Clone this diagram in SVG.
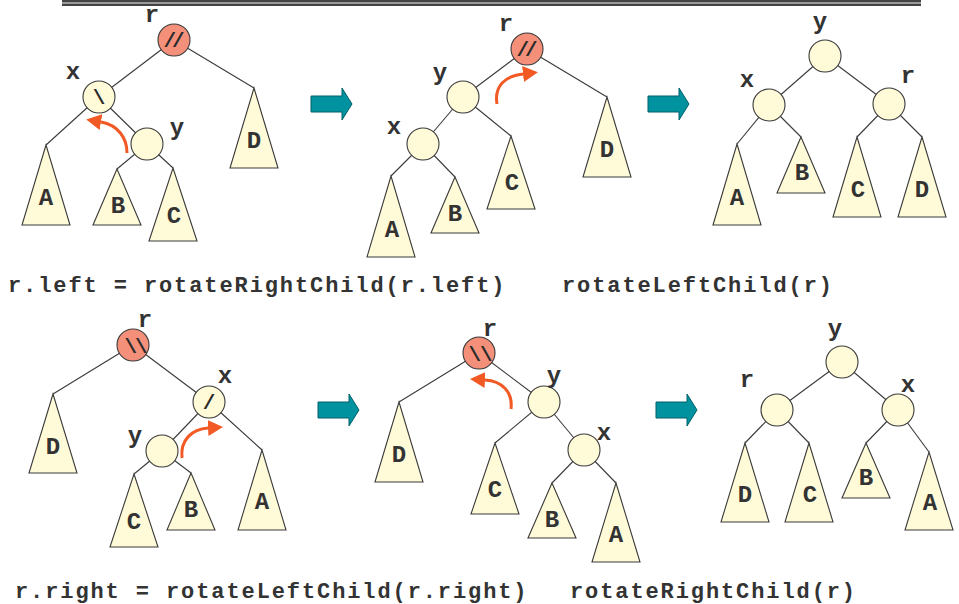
<svg xmlns="http://www.w3.org/2000/svg" width="959" height="604" viewBox="0 0 959 604">
  <style>
    .edge { stroke: #3a3a3a; stroke-width: 1.1; fill: none; }
    .node { fill: #FFFAD7; stroke: #3a3a3a; stroke-width: 1.1; }
    .hot { fill: #F4907A; stroke: #3a3a3a; stroke-width: 1.1; }
    .sub { fill: #FFFAD7; stroke: #3a3a3a; stroke-width: 1.1; stroke-linejoin: miter; }
    .lbl { font-family: "Liberation Mono", "Courier New", monospace; font-weight: bold; font-size: 24px; fill: #333; text-anchor: middle; }
    .mark { font-family: "Liberation Mono", "Courier New", monospace; font-weight: bold; font-size: 21px; fill: #2a2a2a; text-anchor: middle; }
    .code { font-family: "Liberation Mono", "Courier New", monospace; font-weight: bold; font-size: 22px; letter-spacing: 1.9px; fill: #333; }
    .turn { stroke: #F15A24; stroke-width: 3; fill: none; marker-end: url(#turnhead); }
    .step { fill: #00929E; stroke: #00606A; stroke-width: 1; }
  </style>
  <defs>
    <marker id="turnhead" markerUnits="userSpaceOnUse" markerWidth="15" markerHeight="16" viewBox="0 0 15 16" refX="0" refY="8" orient="auto">
      <path d="M0,0 L15,8 L0,16 z" fill="#F15A24"/>
    </marker>
    <path id="stepArrow" d="M0,8 H31 V0 L41,16 L31,32 V24 H0 z"/>
  </defs>

  <!-- header rule -->
  <g id="header-rule">
    <rect x="62" y="0" width="859" height="6" fill="#9a9a9a"/>
    <rect x="62" y="0" width="859" height="2" fill="#444"/>
    <rect x="62" y="4" width="859" height="2" fill="#444"/>
  </g>

  <!-- connectors -->
  <g id="connectors">
    <!-- top left -->
    <line class="edge" x1="174" y1="40" x2="99" y2="97"/>
    <line class="edge" x1="174" y1="40" x2="254" y2="88"/>
    <line class="edge" x1="99" y1="97" x2="46" y2="145"/>
    <line class="edge" x1="99" y1="97" x2="147" y2="144"/>
    <line class="edge" x1="147" y1="144" x2="117" y2="169"/>
    <line class="edge" x1="147" y1="144" x2="173" y2="168"/>
    <!-- top middle -->
    <line class="edge" x1="527" y1="49" x2="463" y2="97"/>
    <line class="edge" x1="527" y1="49" x2="607" y2="97"/>
    <line class="edge" x1="463" y1="97" x2="423" y2="144"/>
    <line class="edge" x1="463" y1="97" x2="511" y2="136"/>
    <line class="edge" x1="423" y1="144" x2="391" y2="176"/>
    <line class="edge" x1="423" y1="144" x2="455" y2="177"/>
    <!-- top right -->
    <line class="edge" x1="825" y1="56" x2="769" y2="105"/>
    <line class="edge" x1="825" y1="56" x2="889" y2="104"/>
    <line class="edge" x1="769" y1="105" x2="737" y2="144"/>
    <line class="edge" x1="769" y1="105" x2="801" y2="137"/>
    <line class="edge" x1="889" y1="104" x2="857" y2="137"/>
    <line class="edge" x1="889" y1="104" x2="922" y2="137"/>
    <!-- bottom left -->
    <line class="edge" x1="133" y1="345" x2="53" y2="394"/>
    <line class="edge" x1="133" y1="345" x2="209" y2="402"/>
    <line class="edge" x1="209" y1="402" x2="162" y2="451"/>
    <line class="edge" x1="209" y1="402" x2="262" y2="450"/>
    <line class="edge" x1="162" y1="451" x2="134" y2="474"/>
    <line class="edge" x1="162" y1="451" x2="191" y2="473"/>
    <!-- bottom middle -->
    <line class="edge" x1="479" y1="353" x2="399" y2="402"/>
    <line class="edge" x1="479" y1="353" x2="544" y2="402"/>
    <line class="edge" x1="544" y1="402" x2="495" y2="443"/>
    <line class="edge" x1="544" y1="402" x2="584" y2="450"/>
    <line class="edge" x1="584" y1="450" x2="552" y2="483"/>
    <line class="edge" x1="584" y1="450" x2="616" y2="483"/>
    <!-- bottom right -->
    <line class="edge" x1="842" y1="362" x2="777" y2="410"/>
    <line class="edge" x1="842" y1="362" x2="898" y2="410"/>
    <line class="edge" x1="777" y1="410" x2="745" y2="443"/>
    <line class="edge" x1="777" y1="410" x2="809" y2="443"/>
    <line class="edge" x1="898" y1="410" x2="866" y2="443"/>
    <line class="edge" x1="898" y1="410" x2="929" y2="452"/>
  </g>

  <!-- ===== top row, left tree ===== -->
  <g id="t1-r"><circle class="hot" cx="174" cy="40" r="16"/><text class="mark" x="172" y="47" letter-spacing="-4">//</text><text class="lbl" x="152" y="22">r</text></g>
  <g id="t1-x"><circle class="node" cx="99" cy="97" r="16"/><text class="mark" x="99" y="104">\</text><text class="lbl" x="73" y="79">x</text></g>
  <g id="t1-y"><circle class="node" cx="147" cy="144" r="16"/><text class="lbl" x="177" y="135">y</text></g>
  <g id="t1-A"><polygon class="sub" points="46,145 70,225 22,225"/><text class="lbl" x="46" y="205">A</text></g>
  <g id="t1-B"><polygon class="sub" points="117,169 141,225 93,225"/><text class="lbl" x="118" y="213">B</text></g>
  <g id="t1-C"><polygon class="sub" points="173,168 197,241 149,241"/><text class="lbl" x="174" y="223">C</text></g>
  <g id="t1-D"><polygon class="sub" points="254,88 278,168 230,168"/><text class="lbl" x="254" y="148">D</text></g>
  <path id="t1-turn" class="turn" d="M127,153 C127,138 118,125 101,122"/>

  <!-- ===== top row, middle tree ===== -->
  <g id="t2-r"><circle class="hot" cx="527" cy="49" r="16"/><text class="mark" x="525" y="56" letter-spacing="-4">//</text><text class="lbl" x="506" y="31">r</text></g>
  <g id="t2-y"><circle class="node" cx="463" cy="97" r="16"/><text class="lbl" x="440" y="80">y</text></g>
  <g id="t2-x"><circle class="node" cx="423" cy="144" r="16"/><text class="lbl" x="394" y="134">x</text></g>
  <g id="t2-A"><polygon class="sub" points="391,176 415,257 367,257"/><text class="lbl" x="392" y="237">A</text></g>
  <g id="t2-B"><polygon class="sub" points="455,177 479,233 431,233"/><text class="lbl" x="455" y="221">B</text></g>
  <g id="t2-C"><polygon class="sub" points="511,136 535,209 487,209"/><text class="lbl" x="512" y="190">C</text></g>
  <g id="t2-D"><polygon class="sub" points="607,97 631,177 583,177"/><text class="lbl" x="607" y="157">D</text></g>
  <path id="t2-turn" class="turn" d="M497,104 C494,86 505,76 523,74"/>

  <!-- ===== top row, right tree ===== -->
  <g id="t3-y"><circle class="node" cx="825" cy="56" r="16"/><text class="lbl" x="820" y="29">y</text></g>
  <g id="t3-x"><circle class="node" cx="769" cy="105" r="16"/><text class="lbl" x="747" y="87">x</text></g>
  <g id="t3-r"><circle class="node" cx="889" cy="104" r="16"/><text class="lbl" x="908" y="83">r</text></g>
  <g id="t3-A"><polygon class="sub" points="737,144 761,225 713,225"/><text class="lbl" x="737" y="205">A</text></g>
  <g id="t3-B"><polygon class="sub" points="801,137 825,193 777,193"/><text class="lbl" x="802" y="180">B</text></g>
  <g id="t3-C"><polygon class="sub" points="857,137 881,217 833,217"/><text class="lbl" x="858" y="197">C</text></g>
  <g id="t3-D"><polygon class="sub" points="922,137 946,217 898,217"/><text class="lbl" x="922" y="197">D</text></g>

  <!-- ===== bottom row, left tree ===== -->
  <g id="b1-r"><circle class="hot" cx="133" cy="345" r="16"/><text class="mark" x="135" y="353" letter-spacing="-2">\\</text><text class="lbl" x="145" y="327">r</text></g>
  <g id="b1-x"><circle class="node" cx="209" cy="402" r="16"/><text class="mark" x="209" y="409">/</text><text class="lbl" x="225" y="383">x</text></g>
  <g id="b1-y"><circle class="node" cx="162" cy="451" r="16"/><text class="lbl" x="135" y="443">y</text></g>
  <g id="b1-D"><polygon class="sub" points="53,394 77,473 29,473"/><text class="lbl" x="53" y="454">D</text></g>
  <g id="b1-C"><polygon class="sub" points="134,474 158,547 110,547"/><text class="lbl" x="134" y="529">C</text></g>
  <g id="b1-B"><polygon class="sub" points="191,473 215,530 167,530"/><text class="lbl" x="191" y="517">B</text></g>
  <g id="b1-A"><polygon class="sub" points="262,450 286,530 238,530"/><text class="lbl" x="262" y="509">A</text></g>
  <path id="b1-turn" class="turn" d="M182,458 C180,440 192,429 208,428"/>

  <!-- ===== bottom row, middle tree ===== -->
  <g id="b2-r"><circle class="hot" cx="479" cy="353" r="16"/><text class="mark" x="480" y="361" letter-spacing="-1">\\</text><text class="lbl" x="490" y="336">r</text></g>
  <g id="b2-y"><circle class="node" cx="544" cy="402" r="16"/><text class="lbl" x="554" y="383">y</text></g>
  <g id="b2-x"><circle class="node" cx="584" cy="450" r="16"/><text class="lbl" x="604" y="440">x</text></g>
  <g id="b2-D"><polygon class="sub" points="399,402 423,482 375,482"/><text class="lbl" x="399" y="462">D</text></g>
  <g id="b2-C"><polygon class="sub" points="495,443 519,514 471,514"/><text class="lbl" x="495" y="497">C</text></g>
  <g id="b2-B"><polygon class="sub" points="552,483 576,538 528,538"/><text class="lbl" x="552" y="527">B</text></g>
  <g id="b2-A"><polygon class="sub" points="616,483 640,562 592,562"/><text class="lbl" x="616" y="542">A</text></g>
  <path id="b2-turn" class="turn" d="M511,409 C513,392 502,381 485,380"/>

  <!-- ===== bottom row, right tree ===== -->
  <g id="b3-y"><circle class="node" cx="842" cy="362" r="16"/><text class="lbl" x="835" y="336">y</text></g>
  <g id="b3-r"><circle class="node" cx="777" cy="410" r="16"/><text class="lbl" x="747" y="387">r</text></g>
  <g id="b3-x"><circle class="node" cx="898" cy="410" r="16"/><text class="lbl" x="908" y="392">x</text></g>
  <g id="b3-D"><polygon class="sub" points="745,443 769,522 721,522"/><text class="lbl" x="745" y="502">D</text></g>
  <g id="b3-C"><polygon class="sub" points="809,443 833,522 785,522"/><text class="lbl" x="810" y="502">C</text></g>
  <g id="b3-B"><polygon class="sub" points="866,443 890,498 842,498"/><text class="lbl" x="866" y="485">B</text></g>
  <g id="b3-A"><polygon class="sub" points="929,452 953,530 905,530"/><text class="lbl" x="930" y="510">A</text></g>

  <!-- step arrows between stages -->
  <g id="steps">
    <use href="#stepArrow" class="step" transform="translate(311,88)"/>
    <use href="#stepArrow" class="step" transform="translate(648,88)"/>
    <use href="#stepArrow" class="step" transform="translate(318,394)"/>
    <use href="#stepArrow" class="step" transform="translate(656,394)"/>
  </g>

  <!-- operation captions -->
  <g id="captions">
    <text class="code" x="8" y="292">r.left = rotateRightChild(r.left)</text>
    <text class="code" x="562" y="292">rotateLeftChild(r)</text>
    <text class="code" x="15" y="598">r.right = rotateLeftChild(r.right)</text>
    <text class="code" x="570" y="598">rotateRightChild(r)</text>
  </g>
</svg>
